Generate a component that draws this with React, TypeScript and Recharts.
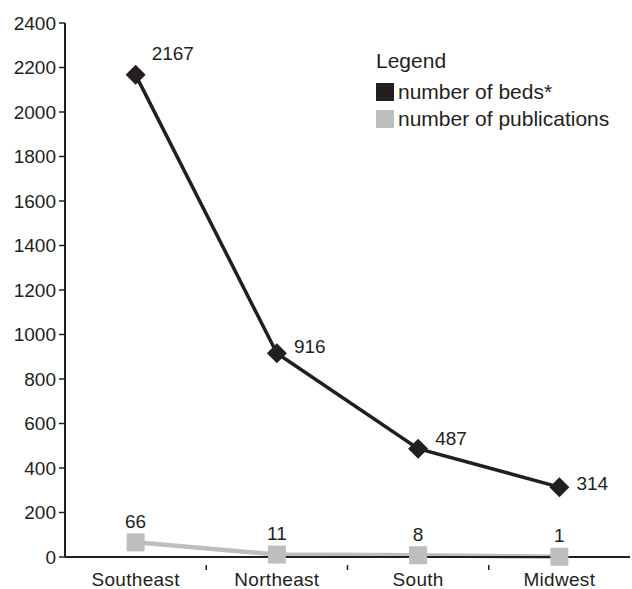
import { LineChart, Line, XAxis, YAxis, LabelList } from "recharts";

const regions = ["Southeast", "Northeast", "South", "Midwest"];
const beds = [2167, 916, 487, 314];
const publications = [66, 11, 8, 1];
const yTicks = [0, 200, 400, 600, 800, 1000, 1200, 1400, 1600, 1800, 2000, 2200, 2400];

const data = regions.map((region, i) => ({
  region,
  beds: beds[i],
  publications: publications[i],
}));

const FONT = "'Liberation Sans', Arial, Helvetica, sans-serif";
const INK = "#231f20";
const GREY = "#bcbec0";

const W = 632;
const H = 589;
const PLOT_LEFT = 65;
const PLOT_RIGHT = 630;
const STEP = (PLOT_RIGHT - PLOT_LEFT) / regions.length;

// label offsets for the beds series, as placed in the original
const bedLabelShift = [
  { dx: 16, dy: -21 },
  { dx: 17, dy: -7 },
  { dx: 17, dy: -10 },
  { dx: 17, dy: -4 },
];

const Diamond = ({ cx, cy }: any) => {
  if (cx == null || cy == null) return null;
  const r = 10;
  return (
    <polygon
      points={`${cx},${cy - r} ${cx + r},${cy} ${cx},${cy + r} ${cx - r},${cy}`}
      fill={INK}
    />
  );
};

const Square = ({ cx, cy }: any) => {
  if (cx == null || cy == null) return null;
  return <rect x={cx - 9} y={cy - 9} width={18} height={18} fill={GREY} />;
};

const BedLabel = ({ x, y, value, index }: any) => {
  const s = bedLabelShift[index] || { dx: 17, dy: -6 };
  return (
    <text
      x={x + s.dx}
      y={y + s.dy}
      dominantBaseline="central"
      fontSize={19}
      fontFamily={FONT}
      fill={INK}
    >
      {value}
    </text>
  );
};

const PubLabel = ({ x, y, value }: any) => (
  <text
    x={x}
    y={y - 21}
    textAnchor="middle"
    dominantBaseline="central"
    fontSize={19}
    fontFamily={FONT}
    fill={INK}
  >
    {value}
  </text>
);

const CategoryTick = ({ x, y, payload, index }: any) => (
  <g>
    <text
      x={x}
      y={y + 21}
      textAnchor="middle"
      fontSize={19}
      fontFamily={FONT}
      fill={INK}
      letterSpacing={0.3}
    >
      {payload.value}
    </text>
    {index < regions.length - 1 && (
      <line x1={x + STEP / 2} x2={x + STEP / 2} y1={y} y2={y + 5} stroke={INK} strokeWidth={1.5} />
    )}
  </g>
);

const LegendBox = () => (
  <div
    style={{
      position: "absolute",
      left: 376,
      top: 47,
      fontFamily: FONT,
      color: INK,
      fontSize: 21,
      lineHeight: "27px",
    }}
  >
    <div style={{ marginBottom: 4 }}>Legend</div>
    <div style={{ display: "flex", alignItems: "center" }}>
      <span style={{ display: "inline-block", width: 18, height: 18, background: INK, marginRight: 4 }} />
      number of beds*
    </div>
    <div style={{ display: "flex", alignItems: "center" }}>
      <span style={{ display: "inline-block", width: 18, height: 18, background: GREY, marginRight: 4 }} />
      number of publications
    </div>
  </div>
);

export default function App() {
  return (
    <div style={{ position: "absolute", left: 0, top: 0, width: W, height: H, background: "#fff" }}>
      <LineChart
        width={W}
        height={H}
        data={data}
        margin={{ top: 23, right: W - PLOT_RIGHT, left: 0, bottom: 0 }}
      >
        <YAxis
          domain={[0, 2400]}
          ticks={yTicks}
          width={PLOT_LEFT}
          interval={0}
          tickSize={6}
          tickMargin={3}
          axisLine={{ stroke: INK, strokeWidth: 2 }}
          tickLine={{ stroke: INK, strokeWidth: 1.5 }}
          tick={{ fontSize: 19, fontFamily: FONT, fill: INK }}
        />
        <XAxis
          dataKey="region"
          scale="band"
          height={32}
          interval={0}
          tickLine={false}
          axisLine={{ stroke: INK, strokeWidth: 2 }}
          tick={<CategoryTick />}
        />
        <Line
          dataKey="publications"
          stroke={GREY}
          strokeWidth={4.5}
          dot={<Square />}
          activeDot={false}
          isAnimationActive={false}
        >
          <LabelList dataKey="publications" content={<PubLabel />} />
        </Line>
        <Line
          dataKey="beds"
          stroke={INK}
          strokeWidth={3.5}
          dot={<Diamond />}
          activeDot={false}
          isAnimationActive={false}
        >
          <LabelList dataKey="beds" content={<BedLabel />} />
        </Line>
      </LineChart>
      <LegendBox />
    </div>
  );
}
